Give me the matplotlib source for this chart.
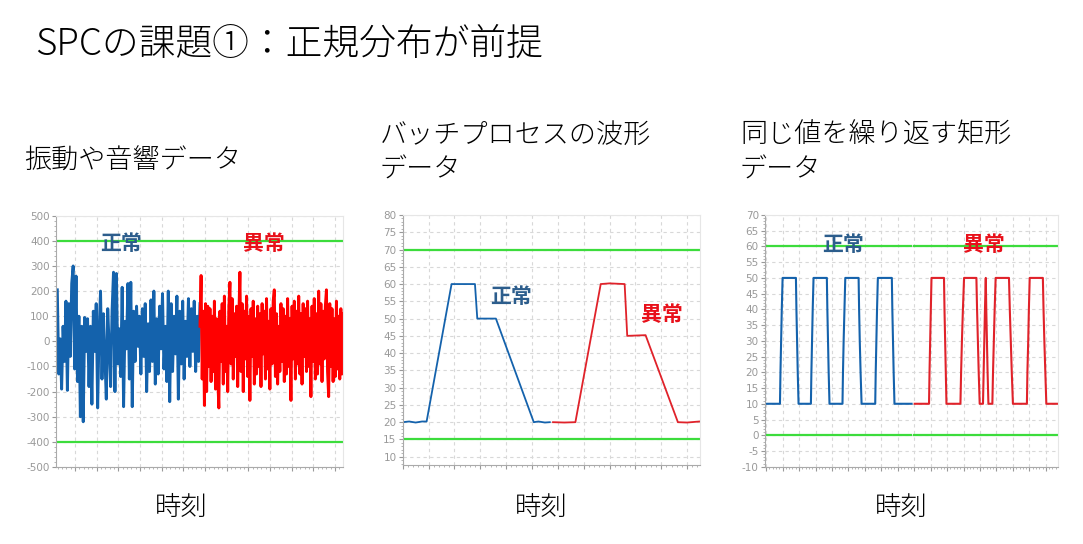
import numpy as np
import matplotlib.pyplot as plt
from matplotlib.ticker import MultipleLocator, AutoMinorLocator, NullFormatter

plt.rcParams['font.family'] = ['Noto Sans CJK JP', 'DejaVu Sans']
plt.rcParams['axes.unicode_minus'] = False

# ----------------------------
# Data
# ----------------------------
# vibration / acoustic signal (normal half, abnormal half)
vib_normal = [205, -130, 10, -190, 60, -80, 160, -195, 150, -60,
              230, 300, -110, 260, -160, 100, -300, 60, -320, 95,
              -40, 90, -180, 60, -250, 120, -40, 150, -265, 40,
              200, -150, 110, -60, -230, 130, -20, -180, 120, 275,
              -200, 270, -90, 50, -140, 215, -260, 80, -30, 230,
              -150, 235, -260, 120, -80, 140, -20, 100, -130, 130,
              -60, 150, -200, 70, -120, 165, -80, 200, -170, 90,
              -130, 140, -30, 190, -110, 60, -160, 200, -240, 150,
              -120, 100, -50, 180, -230, 120, -90, 160, -150, 80,
              -60, 170, -100, 130, -40, 160, -120, 100, -80, 150]
vib_abnormal = [60, 262, -150, 120, -255, 150, -200, 140, -100, 130,
                -160, 100, -120, 160, -190, 90, -140, -265, 120, -80,
                150, -170, 180, -120, 60, -200, 130, 235, -90, 170,
                -150, 110, -60, 140, -180, 90, 275, -120, 150, -200,
                120, -70, 180, -140, 100, -235, 130, -60, 160, -170,
                90, -130, 140, -100, 110, -180, 150, -50, 120, -150,
                170, -110, 80, -190, 130, -90, 160, 205, -140, 110,
                -170, 60, -120, 150, -80, 130, -160, 100, -130, 170,
                -100, 90, -235, 140, -70, 160, -150, 120, -90, 180,
                -130, 110, -170, 150, -60, 130, -120, 160, -100, 90,
                -220, 140, -80, 170, -150, 110, -130, 200, -90, 150,
                -160, 120, -70, 140, 205, -120, -220, 150, -100, 130,
                -160, 90, -140, 160, -110, 100, -150, 130, -130, 110]
vib_limits = [400, -400]

# batch process waveform
batch_x_normal = [0, 5, 10, 15, 18.5, 37.8, 55.9, 57.7, 72.1, 101.4, 105, 110, 113.8]
batch_y_normal = [20, 20.2, 19.9, 20.2, 20.2, 60, 60, 50, 50, 20, 20.2, 19.9, 20]
batch_x_abnormal = [116.3, 125, 133.6, 153.2, 160, 171.7, 173.7, 187.9, 212.9, 220, 229.6]
batch_y_abnormal = [20, 19.9, 20, 60, 60.2, 60, 45, 45.2, 20, 19.9, 20.2]
batch_limits = [70, 15]

# rectangular waveform
rect_x_normal = [0.3, 8.4, 8.7, 9.1, 9.5, 10.0, 18.1, 18.4, 18.8, 19.2, 19.7,
                 27.2, 27.5, 27.9, 28.3, 28.8, 36.9, 37.2, 37.6, 38.0, 38.5,
                 46.4, 46.7, 47.1, 47.6, 48.1, 56.2, 56.5, 56.9, 57.4, 58.0,
                 66.3, 66.6, 67.0, 67.4, 67.9, 76.4, 76.7, 77.1, 77.5, 78.0, 88.4]
rect_y_normal = [10, 10, 20, 30, 40, 50, 50, 40, 30, 20, 10,
                 10, 20, 30, 40, 50, 50, 40, 30, 20, 10,
                 10, 20, 30, 40, 50, 50, 40, 30, 20, 10,
                 10, 20, 30, 40, 50, 50, 40, 30, 20, 10, 10]
rect_x_abnormal = [90.3, 99.0, 99.3, 99.7, 100.1, 100.5, 108.1, 108.4, 108.8, 109.2, 109.6,
                   118.1, 118.5, 119.0, 119.6, 120.3, 127.8, 128.2, 128.7, 129.2, 129.8,
                   131.8, 132.2, 132.6, 133.0, 133.5, 133.8, 134.2, 134.6, 135.1,
                   137.5, 137.9, 138.4, 138.9, 139.5, 147.6, 148.1, 148.7, 149.3, 150.0,
                   158.5, 158.8, 159.3, 159.7, 160.2, 168.2, 168.6, 169.1, 169.7, 170.3, 177.2]
rect_y_abnormal = [10, 10, 20, 30, 40, 50, 50, 40, 30, 20, 10,
                   10, 20, 30, 40, 50, 50, 40, 30, 20, 10,
                   10, 20, 30, 40, 50, 40, 30, 20, 10,
                   10, 20, 30, 40, 50, 50, 40, 30, 20, 10,
                   10, 20, 30, 40, 50, 50, 40, 30, 20, 10, 10]
rect_limits = [60, 0]

BLUE = '#1462AC'
RED = '#FF0000'
RED2 = '#E0222A'
GREEN = '#3CDC3C'
LBL_BLUE = '#2C5D8C'
LBL_RED = '#E8101A'

W, H = 1083, 544
fig = plt.figure(figsize=(W / 100, H / 100), dpi=100)


def px_axes(left, top, right, bottom):
    return fig.add_axes([left / W, 1 - bottom / H, (right - left) / W, (bottom - top) / H])


def style(ax, xlim, ylim, xmaj, ymaj, ymin_div):
    ax.set_xlim(*xlim)
    ax.set_ylim(*ylim)
    ax.xaxis.set_major_locator(MultipleLocator(xmaj))
    ax.xaxis.set_minor_locator(AutoMinorLocator(5))
    ax.xaxis.set_major_formatter(NullFormatter())
    ax.yaxis.set_major_locator(MultipleLocator(ymaj))
    ax.yaxis.set_minor_locator(AutoMinorLocator(ymin_div))
    ax.grid(True, which='major', color='#D8D8D8', linestyle=(0, (3, 3)), linewidth=0.8)
    ax.set_axisbelow(True)
    ax.tick_params(axis='both', which='major', length=3, width=0.8, color='#999999',
                   labelsize=7.5, labelcolor='#999999', pad=1.5)
    ax.tick_params(axis='both', which='minor', length=1.5, width=0.6, color='#AAAAAA')
    for lab in ax.get_yticklabels():
        lab.set_family('DejaVu Sans')
    ax.spines['left'].set_color('#AAAAAA')
    ax.spines['bottom'].set_color('#AAAAAA')
    ax.spines['top'].set_color('#E6E6E6')
    ax.spines['right'].set_color('#E6E6E6')


# ----------------------------
# Chart 1: vibration
# ----------------------------
ax1 = px_axes(56, 215.7, 343.3, 467)
x_n = np.linspace(3.7, 135.4, len(vib_normal))
x_a = np.linspace(135.4, 267.5, len(vib_abnormal))
ax1.plot(x_n, vib_normal, color=BLUE, lw=2.1)
ax1.plot(x_a, vib_abnormal, color=RED, lw=2.1)
for v in vib_limits:
    ax1.axhline(v, color=GREEN, lw=1.6)
style(ax1, (2.5, 267.7), (-500, 500), 20, 100, 5)
ax1.text(62.5, 388, '正常', color=LBL_BLUE, fontsize=15, fontweight='bold', ha='center', va='center')
ax1.text(194.6, 388, '異常', color=LBL_RED, fontsize=15, fontweight='bold', ha='center', va='center')

# ----------------------------
# Chart 2: batch process
# ----------------------------
ax2 = px_axes(402.7, 215, 700, 465)
ax2.plot(batch_x_normal, batch_y_normal, color=BLUE, lw=1.3)
ax2.plot(batch_x_abnormal, batch_y_abnormal, color=RED2, lw=1.3)
for v in batch_limits:
    ax2.plot([0, 114.5], [v, v], color=GREEN, lw=1.6)
    ax2.plot([116.3, 230], [v, v], color=GREEN, lw=1.6)
style(ax2, (0, 230), (7.6, 80), 20, 5, 5)
ax2.text(83.6, 56.5, '正常', color=LBL_BLUE, fontsize=15, fontweight='bold', ha='center', va='center')
ax2.text(200.2, 51.3, '異常', color=LBL_RED, fontsize=15, fontweight='bold', ha='center', va='center')

# ----------------------------
# Chart 3: rectangular
# ----------------------------
ax3 = px_axes(765, 215, 1058, 466.7)
ax3.plot(rect_x_normal, rect_y_normal, color=BLUE, lw=1.5)
ax3.plot(rect_x_abnormal, rect_y_abnormal, color=RED2, lw=1.5)
for v in rect_limits:
    ax3.plot([-0.7, 87.9], [v, v], color=GREEN, lw=1.6)
    ax3.plot([90.0, 177.4], [v, v], color=GREEN, lw=1.6)
style(ax3, (-0.7, 177.4), (-10, 70), 10, 5, 5)
ax3.text(46.6, 60.5, '正常', color=LBL_BLUE, fontsize=15, fontweight='bold', ha='center', va='center')
ax3.text(132.2, 60.5, '異常', color=LBL_RED, fontsize=15, fontweight='bold', ha='center', va='center')

# ----------------------------
# Texts
# ----------------------------
fig.text(35 / W, 1 - 45 / H, 'SPCの課題①：正規分布が前提', fontsize=26.5, va='center', ha='left',
         fontweight='light')
fig.text(24 / W, 1 - 161 / H, '振動や音響データ', fontsize=19.5, va='center', ha='left', fontweight='light')
fig.text(380 / W, 1 - 152 / H, 'バッチプロセスの波形\nデータ', fontsize=19.5, va='center', ha='left',
         linespacing=1.3, fontweight='light')
fig.text(740 / W, 1 - 152 / H, '同じ値を繰り返す矩形\nデータ', fontsize=19.5, va='center', ha='left',
         linespacing=1.3, fontweight='light')
for cx in [181, 541, 901]:
    fig.text(cx / W, 1 - 507 / H, '時刻', fontsize=19, va='center', ha='center', fontweight='light')

plt.savefig('out.png', dpi=100)
